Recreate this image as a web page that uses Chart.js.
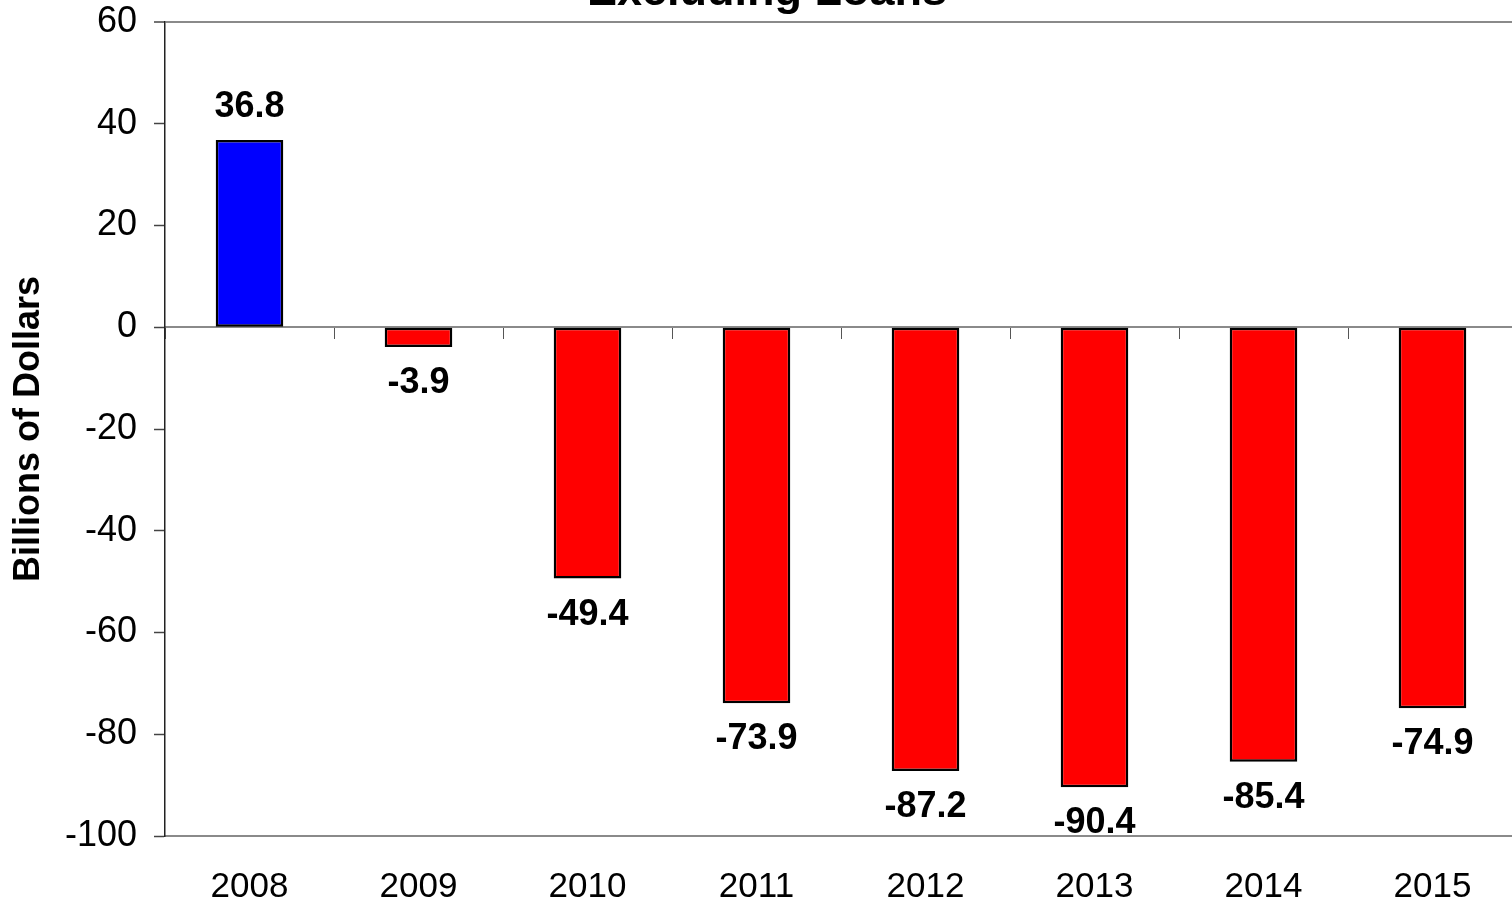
<!DOCTYPE html>
<html>
<head>
<meta charset="utf-8">
<script src="https://cdn.jsdelivr.net/npm/chart.js@4/dist/chart.umd.min.js"></script>
<style>
  html, body { margin: 0; padding: 0; background: #fff; overflow: hidden; }
  #wrap { position: absolute; left: 0; top: 0; width: 1530px; height: 903px; }
</style>
</head>
<body>
<div id="wrap"><canvas id="chart"></canvas></div>
<script>
const years = ['2008', '2009', '2010', '2011', '2012', '2013', '2014', '2015'];
const balance = [36.8, -3.9, -49.4, -73.9, -87.2, -90.4, -85.4, -74.9];
const yTicks = [60, 40, 20, 0, -20, -40, -60, -80, -100];

const FONT = '"Liberation Sans", Arial, sans-serif';

// titolo tagliato in alto, come nell'originale
const titlePlugin = {
    id: 'topTitle',
    afterDraw(chart) {
        const ctx = chart.ctx;
        ctx.save();
        ctx.font = 'bold 45px ' + FONT;
        ctx.fillStyle = '#000';
        ctx.textAlign = 'center';
        ctx.textBaseline = 'alphabetic';
        ctx.fillText('Excluding Loans', 767, 5);
        ctx.restore();
    }
};

// etichette dei valori sopra/sotto le barre
const valueLabels = {
    id: 'valueLabels',
    afterDatasetsDraw(chart) {
        const ctx = chart.ctx;
        const meta = chart.getDatasetMeta(0);
        ctx.save();
        ctx.font = 'bold 36px ' + FONT;
        ctx.fillStyle = '#000';
        ctx.textAlign = 'center';
        ctx.textBaseline = 'alphabetic';
        meta.data.forEach((bar, i) => {
            const v = balance[i];
            const y = v >= 0 ? bar.y - 23 : bar.y + 46;
            ctx.fillText(v.toFixed(1), bar.x, y);
        });
        ctx.restore();
    }
};

new Chart(document.getElementById('chart'), {
    type: 'bar',
    data: {
        labels: years,
        datasets: [{
            data: balance,
            backgroundColor: balance.map(v => v >= 0 ? '#0000FF' : '#FF0000'),
            borderColor: '#000',
            borderWidth: 2.5,
            borderSkipped: false,
            barPercentage: 0.4,
            categoryPercentage: 1.0,
            xAxisID: 'x'
        }]
    },
    options: {
        responsive: true,
        maintainAspectRatio: false,
        animation: false,
        layout: { padding: { top: 22, right: 13, left: 0, bottom: 0 } },
        plugins: {
            legend: { display: false },
            tooltip: { enabled: false },
            title: { display: false }
        },
        scales: {
            x: {
                type: 'category',
                position: 'bottom',
                offset: true,
                grid: { drawOnChartArea: false, drawTicks: false, offset: true },
                border: { display: true, color: '#8a8a8a', width: 2 },
                ticks: { color: '#000', font: { family: FONT, size: 35 }, padding: 30, maxRotation: 0, autoSkip: false },
                afterFit(scale) { scale.height = 67; }
            },
            // asse dello zero con le tacche tra le categorie
            x0: {
                type: 'category',
                labels: years,
                position: { y: 0 },
                offset: true,
                grid: { drawOnChartArea: false, drawTicks: true, tickLength: 11, tickColor: '#555', offset: true },
                border: { display: true, color: '#8a8a8a', width: 2 },
                ticks: { display: false }
            },
            y: {
                min: -100,
                max: 60,
                afterBuildTicks(scale) { scale.ticks = yTicks.map(v => ({ value: v })); },
                grid: {
                    drawOnChartArea: true,
                    drawTicks: true,
                    tickLength: 11,
                    color: c => (c.tick && c.tick.value === 60) ? '#8a8a8a' : 'rgba(0,0,0,0)',
                    lineWidth: c => (c.tick && c.tick.value === 60) ? 2 : 1,
                    tickColor: '#444',
                    tickWidth: 1.5
                },
                border: { display: true, color: '#222', width: 1.5 },
                ticks: { color: '#000', font: { family: FONT, size: 36 }, padding: 17 },
                title: {
                    display: true,
                    text: 'Billions of Dollars',
                    color: '#000',
                    font: { family: FONT, size: 36, weight: 'bold' },
                    padding: { top: 7, bottom: 0 }
                },
                afterFit(scale) {
                    scale.width = 165;
                    scale.paddingTop = 0;
                    scale.paddingBottom = 0;
                }
            }
        }
    },
    plugins: [titlePlugin, valueLabels]
});
</script>
</body>
</html>
